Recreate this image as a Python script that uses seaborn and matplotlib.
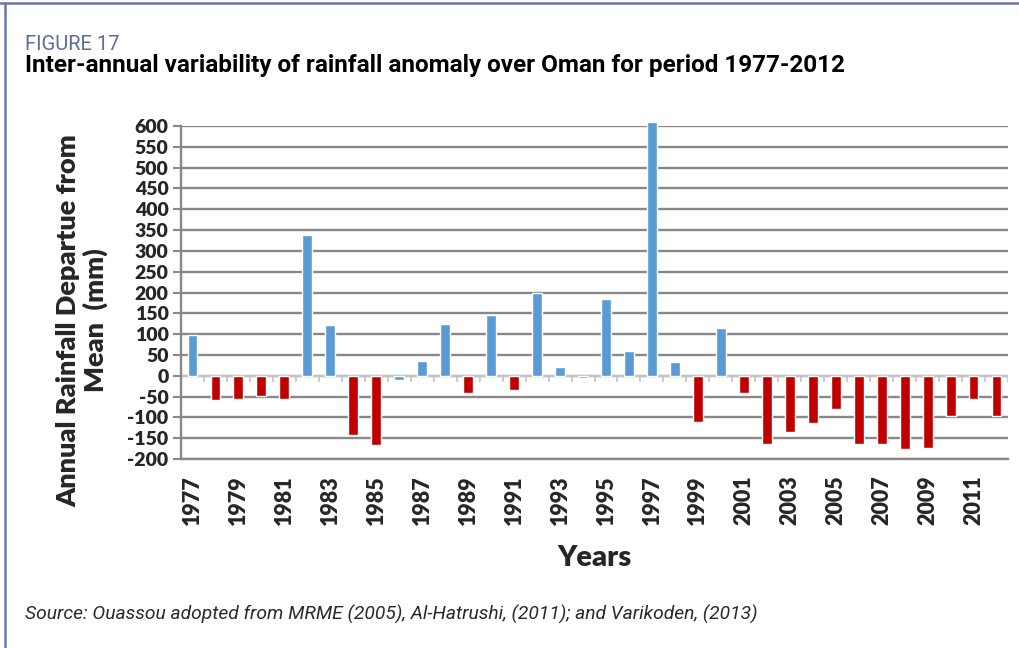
import numpy as np
import pandas as pd
import matplotlib
matplotlib.use("Agg")
import matplotlib.pyplot as plt
from matplotlib.lines import Line2D
import seaborn as sns

# Dados (anomalia de chuva em mm)
years = list(range(1977, 2013))
anomaly = [98, -59, -57, -48, -57, 338, 123, -142, -167, -10,
           36, 125, -41, 145, -35, 198, 21, -6, 185, 60,
           609, 34, -111, 115, -41, -165, -136, -114, -81, -165,
           -165, -177, -173, -97, -57, -97]
# série de cada barra no original (1986 e 1994 ficam na série azul)
series = ["wet", "dry", "dry", "dry", "dry", "wet", "wet", "dry", "dry", "wet",
          "wet", "wet", "dry", "wet", "dry", "wet", "wet", "wet", "wet", "wet",
          "wet", "wet", "dry", "wet", "dry", "dry", "dry", "dry", "dry", "dry",
          "dry", "dry", "dry", "dry", "dry", "dry"]
y_ticks = list(range(-200, 601, 50))
x_tick_labels = [str(y) for y in years[::2]]

df = pd.DataFrame({"Year": [str(y) for y in years], "Anomaly": anomaly, "Series": series})

sns.set_style("white")
plt.rcParams["font.family"] = ["Lato", "DejaVu Sans"]

W, H = 1019, 648
fig = plt.figure(figsize=(W / 100, H / 100), dpi=100)

# moldura azulada do quadro da figura
frame_col = "#6b77a6"
fig.add_artist(Line2D([0, 1], [1 - 2.5 / H, 1 - 2.5 / H], color=frame_col, lw=1.8))
fig.add_artist(Line2D([5 / W, 5 / W], [0, 1 - 2.5 / H], color=frame_col, lw=1.8))

# eixo principal
left, right, top, bottom = 181, 1008, 126, 459
ax = fig.add_axes([left / W, 1 - bottom / H, (right - left) / W, (bottom - top) / H])

sns.barplot(data=df, x="Year", y="Anomaly", hue="Series",
            palette={"wet": "#5b9bd5", "dry": "#c00000"}, saturation=1,
            dodge=False, width=0.43, legend=False, ax=ax, zorder=3)
for p in ax.patches:
    p.set_clip_on(False)

grid_col = "#888888"
ax.set_ylim(-200, 600)
ax.set_xlim(-0.5, len(years) - 0.5)
ax.set_yticks(y_ticks)
ax.set_yticklabels([str(v) for v in y_ticks], fontweight="heavy", fontsize=14)
ax.yaxis.grid(True, color=grid_col, lw=1.7, zorder=0)
ax.set_axisbelow(True)

# pequenas marcas na linha do zero, entre as categorias
ax.axhline(0, color="#d0d0d0", lw=1.2, zorder=1)
ax.vlines(np.arange(len(years) + 1) - 0.5, -14, 0, color="#c4c4c4", lw=1.2, zorder=1)

ax.set_xticks(np.arange(0, len(years), 2))
ax.set_xticklabels(x_tick_labels, rotation=90, fontweight="heavy", fontsize=15.5)
ax.tick_params(axis="x", length=0, pad=12)
ax.tick_params(axis="y", length=6, width=1.5, color=grid_col, pad=3, direction="out", left=True)

for s in ["top", "right"]:
    ax.spines[s].set_visible(False)
ax.spines["left"].set_color(grid_col)
ax.spines["left"].set_linewidth(1.7)
ax.spines["bottom"].set_color(grid_col)
ax.spines["bottom"].set_linewidth(1.7)

ax.set_xlabel("Years", fontweight="heavy", fontsize=21, labelpad=14)
ax.set_ylabel("Annual Rainfall Departue from\nMean  (mm)", fontweight="heavy",
              fontsize=19.5, linespacing=1.1)
ax.yaxis.set_label_coords(-0.088, 0.417)

# textos do cabeçalho e da fonte
fig.text(25 / W, 1 - 50 / H, "FIGURE 17", family="Roboto", fontsize=14.5,
         color="#5d6b9d", va="baseline", ha="left")
fig.text(25 / W, 1 - 72 / H,
         "Inter-annual variability of rainfall anomaly over Oman for period 1977-2012",
         family="Roboto", fontweight="bold", fontsize=17.5, color="black",
         va="baseline", ha="left")
fig.text(25 / W, 1 - 620 / H,
         "Source: Ouassou adopted from MRME (2005), Al-Hatrushi, (2011); and Varikoden, (2013)",
         family="Roboto", style="italic", fontsize=13.9, color="#2a2a2a",
         va="baseline", ha="left")

fig.savefig("out.png", dpi=100)
